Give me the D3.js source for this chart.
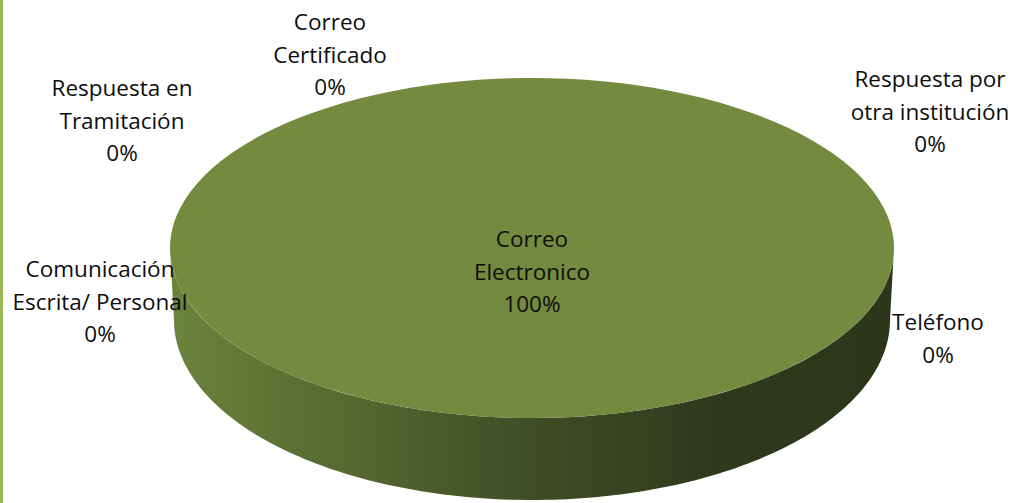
<!DOCTYPE html>
<html>
<head>
<meta charset="utf-8">
<script src="https://cdnjs.cloudflare.com/ajax/libs/d3/7.8.5/d3.min.js"></script>
<style>
  body { margin: 0; background: #fff; }
  svg { display: block; }
</style>
</head>
<body>
<div id="chart"></div>
<script>
// data
var categories = ["Correo Certificado", "Respuesta por otra institución", "Teléfono",
                  "Correo Electronico", "Comunicación Escrita/ Personal", "Respuesta en Tramitación"];
var values = [0, 0, 0, 100, 0, 0];

// where each data label sits (first baseline, centre) and how many words go on line 1
var labelLayout = {
  "Correo Certificado":             {x: 330, y: 30,  first: 1},
  "Respuesta por otra institución": {x: 930, y: 87,  first: 2},
  "Teléfono":                       {x: 938, y: 330, first: 1},
  "Correo Electronico":             {x: 532, y: 247, first: 1},
  "Comunicación Escrita/ Personal": {x: 100, y: 277, first: 1},
  "Respuesta en Tramitación":       {x: 122, y: 96,  first: 2}
};

var width = 1018, height = 503;
var lineH = 32.5;

// pie geometry: top face and bottom rim (slight perspective)
var cx = 532, cy = 248, rx = 362, ry = 170;
var bx = 532, by = 320, brx = 358, bry = 180;

var svg = d3.select("#chart")
  .append("svg")
    .attr("width", width)
    .attr("height", height);

var defs = svg.append("defs");
var grad = defs.append("linearGradient")
    .attr("id", "side")
    .attr("gradientUnits", "userSpaceOnUse")
    .attr("x1", cx - rx).attr("x2", cx + rx)
    .attr("y1", 0).attr("y2", 0);
[[0, "#6b843d"], [0.15, "#5d7335"], [0.5, "#3f4d25"], [0.75, "#2f3a1c"], [1, "#2c361a"]]
  .forEach(function(s) {
    grad.append("stop").attr("offset", s[0]).attr("stop-color", s[1]);
  });

// green frame line on the left
svg.append("rect")
    .attr("x", 0).attr("y", 0)
    .attr("width", 3).attr("height", height)
    .attr("fill", "#9bbb59");

var pie = d3.pie().sort(null).value(function(d) { return d; });
var arcs = pie(values);

function topPt(a) { return [cx + rx * Math.sin(a), cy - ry * Math.cos(a)]; }
function botPt(a) { return [bx + brx * Math.sin(a), by - bry * Math.cos(a)]; }

var line = d3.line();

// front walls (only the part facing the viewer: angles pi/2 .. 3pi/2)
arcs.forEach(function(d, i) {
  var lo = Math.max(d.startAngle, Math.PI / 2),
      hi = Math.min(d.endAngle, Math.PI * 3 / 2);
  if (hi <= lo) return;
  var n = 160, pts = [];
  for (var k = 0; k <= n; k++) pts.push(topPt(lo + (hi - lo) * k / n));
  for (var k = n; k >= 0; k--) pts.push(botPt(lo + (hi - lo) * k / n));
  svg.append("path")
      .attr("d", line(pts) + "Z")
      .attr("fill", "url(#side)");
});

// top faces
var arc = d3.arc().innerRadius(0).outerRadius(rx);
svg.append("g")
    .attr("transform", "translate(" + cx + "," + cy + ") scale(1," + (ry / rx) + ")")
  .selectAll("path")
  .data(arcs.filter(function(d) { return d.value > 0; }))
  .enter().append("path")
    .attr("d", arc)
    .attr("fill", "#738a3f");

// data labels
var pct = d3.format(".0%");
var total = d3.sum(values);
var labels = svg.append("g")
    .attr("font-family", "'Open Sans', sans-serif")
    .attr("font-size", 22.5)
    .attr("fill", "#0d0d0d")
    .attr("text-anchor", "middle");

categories.forEach(function(c, i) {
  var L = labelLayout[c];
  var words = c.split(" ");
  var rows = [words.slice(0, L.first).join(" "), words.slice(L.first).join(" ")]
    .filter(function(r) { return r.length; });
  rows.push(pct(values[i] / total));
  var t = labels.append("text").attr("x", L.x).attr("y", L.y);
  rows.forEach(function(r, j) {
    t.append("tspan").attr("x", L.x).attr("y", L.y + j * lineH).text(r);
  });
});
</script>
</body>
</html>
